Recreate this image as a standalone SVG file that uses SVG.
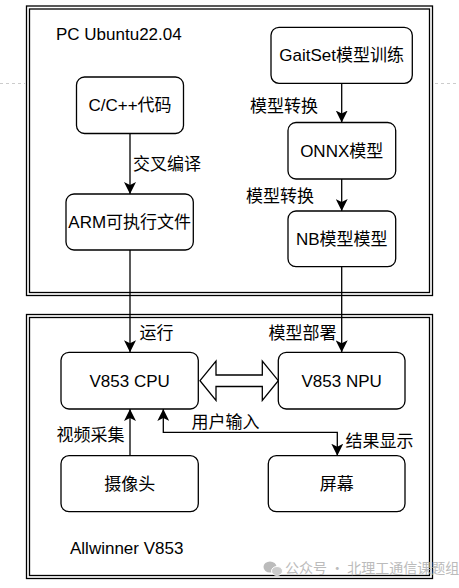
<svg xmlns="http://www.w3.org/2000/svg" width="459" height="588" viewBox="0 0 459 588">
<defs>
<style>
.box{fill:#fff;stroke:#000;stroke-width:1.3}
.frame{fill:none;stroke:#000;stroke-width:1.3}
.t{font-family:"Liberation Sans","Noto Sans CJK SC",sans-serif;font-size:17px;fill:#000}
.c{text-anchor:middle}
.edge{fill:none;stroke:#000;stroke-width:1.3}
.wm{font-family:"Noto Sans CJK SC",sans-serif;font-size:14px;fill:#b0b0b0}
</style>
<marker id="ah" viewBox="0 0 12 12" refX="12" refY="6" markerWidth="12" markerHeight="12" markerUnits="userSpaceOnUse" orient="auto-start-reverse">
<path d="M0,0 L12,6 L0,12 L3,6 z" fill="#000"/>
</marker>
</defs>
<rect width="459" height="588" fill="#fff"/>
<g id="guides" stroke="#ccc" stroke-width="1" stroke-dasharray="3,3">
<line x1="0" y1="83.5" x2="25" y2="83.5"/>
<line x1="435" y1="83.5" x2="459" y2="83.5"/>
</g>
<g id="pc-frame">
<rect class="frame" x="26.5" y="6" width="406" height="289.5"/>
<rect class="frame" x="29.5" y="9" width="400" height="283.5"/>
<text class="t" x="56" y="39.5">PC Ubuntu22.04</text>
</g>
<g id="v853-frame">
<rect class="frame" x="26.5" y="314.5" width="406" height="264"/>
<rect class="frame" x="29.5" y="317.5" width="400" height="258"/>
<text class="t" x="70" y="553.5">Allwinner V853</text>
</g>
<g id="connectors">
<path class="edge" d="M130,133.5 V194" marker-end="url(#ah)"/>
<path class="edge" d="M341.7,83.5 V122.5" marker-end="url(#ah)"/>
<path class="edge" d="M341.7,179 V211" marker-end="url(#ah)"/>
<path class="edge" d="M130,250 V352.3" marker-end="url(#ah)"/>
<path class="edge" d="M341.7,266.7 V352.3" marker-end="url(#ah)"/>
<path class="edge" d="M130,455.7 V409" marker-end="url(#ah)"/>
<path class="edge" d="M163.3,409 V432.3 H337.3 V455.7" marker-start="url(#ah)" marker-end="url(#ah)"/>
<path d="M200,380.7 L216,361 L216,375 L262.3,375 L262.3,361 L278.3,380.7 L262.3,400.5 L262.3,386.5 L216,386.5 L216,400.5 Z" fill="#fff" stroke="#000" stroke-width="1.3" stroke-linejoin="miter"/>
<text class="t" x="133" y="170">交叉编译</text>
<text class="t" x="250" y="111.5">模型转换</text>
<text class="t" x="246" y="201.5">模型转换</text>
<text class="t" x="139.5" y="338.5">运行</text>
<text class="t" x="268.5" y="338.5">模型部署</text>
<text class="t" x="56.5" y="440.5">视频采集</text>
<text class="t" x="191.5" y="428">用户输入</text>
<text class="t" x="345.5" y="446.5">结果显示</text>
</g>
<g id="node-code">
<rect class="box" x="76.5" y="77" width="107" height="56.5" rx="8"/>
<text class="t c" x="130" y="111">C/C++代码</text>
</g>
<g id="node-arm">
<rect class="box" x="66" y="194" width="127.3" height="56" rx="8"/>
<text class="t c" x="129.7" y="228">ARM可执行文件</text>
</g>
<g id="node-gaitset">
<rect class="box" x="271" y="27.3" width="141.3" height="56" rx="8"/>
<text class="t c" x="341.7" y="61.3">GaitSet模型训练</text>
</g>
<g id="node-onnx">
<rect class="box" x="288" y="122.5" width="107.7" height="56.5" rx="8"/>
<text class="t c" x="341.7" y="157">ONNX模型</text>
</g>
<g id="node-nb">
<rect class="box" x="288" y="211" width="107.7" height="55.7" rx="8"/>
<text class="t c" x="341.7" y="245">NB模型模型</text>
</g>
<g id="node-cpu">
<rect class="box" x="61" y="352.3" width="137.3" height="56.7" rx="8"/>
<text class="t c" x="129.7" y="386.7">V853 CPU</text>
</g>
<g id="node-npu">
<rect class="box" x="278.3" y="352.3" width="126.7" height="56.7" rx="8"/>
<text class="t c" x="341.7" y="386.7">V853 NPU</text>
</g>
<g id="node-camera">
<rect class="box" x="61" y="455.7" width="137.3" height="56" rx="8"/>
<text class="t c" x="129.7" y="489.7">摄像头</text>
</g>
<g id="node-screen">
<rect class="box" x="268.3" y="455.7" width="136.7" height="56" rx="8"/>
<text class="t c" x="336.7" y="489.7">屏幕</text>
</g>
<g id="watermark" opacity="0.85">
<ellipse cx="270" cy="567" rx="6.5" ry="5.5" fill="#b0b0b0"/>
<ellipse cx="277" cy="571" rx="5.5" ry="4.5" fill="#c4c4c4" stroke="#fff" stroke-width="1"/>
<text class="wm" x="285" y="573">公众号 · 北理工通信课题组</text>
</g>
</svg>
